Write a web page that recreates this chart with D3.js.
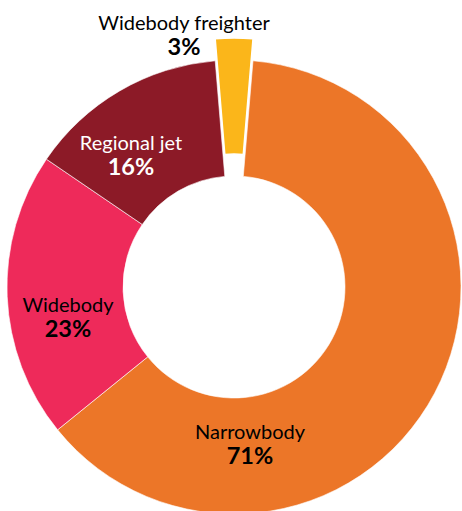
<!DOCTYPE html>
<html>
<head>
<meta charset="utf-8">
<script src="https://cdn.jsdelivr.net/npm/d3@7/dist/d3.min.js"></script>
<style>
  html, body { margin: 0; padding: 0; background: #fff; }
  svg { display: block; }
  text { font-family: Lato, "Open Sans", sans-serif; }
</style>
</head>
<body>
<svg id="chart" width="462" height="511"></svg>
<script>
// Fleet mix by aircraft type (share, %)
const categories = ["Narrowbody", "Widebody", "Regional jet", "Widebody freighter"];
const shares = [71, 23, 16, 3];

// Slice colours, one per category
const colors = ["#EC7628", "#EE2A5A", "#8C1A27", "#FBB61A"];
// Label ink per category
const labelInk = ["#000", "#000", "#fff", "#000"];
// Baseline of each category name, relative to the ring centre
const labelOffsets = [[16, 152], [-166, 25], [-103, -137], [-50, -257]];
// Which slice is pulled out of the ring, and by how much
const explodeIndex = 3;
const explodeBy = 22;

const width = 462, height = 511;
const cx = 234, cy = 287;
const outerR = 227, innerR = 111;

const svg = d3.select("#chart");
const g = svg.append("g").attr("transform", `translate(${cx},${cy})`);

const startA = 4.8 * Math.PI / 180;
const pie = d3.pie().sort(null).value(d => d).startAngle(startA).endAngle(startA + 2 * Math.PI);
const arc = d3.arc().innerRadius(innerR).outerRadius(outerR);

const arcs = pie(shares);

g.selectAll("path.slice")
  .data(arcs)
  .join("path")
  .attr("class", "slice")
  .attr("d", arc)
  .attr("fill", (d, i) => colors[i])
  .attr("stroke", "#fff")
  .attr("stroke-width", (d, i) => i === explodeIndex ? 1.5 : 0.6)
  .attr("transform", (d, i) => {
    if (i !== explodeIndex) return null;
    const mid = (d.startAngle + d.endAngle) / 2;
    return `translate(${Math.sin(mid) * explodeBy},${-Math.cos(mid) * explodeBy})`;
  });

// Category name and share, two lines per label
const labels = g.selectAll("g.label")
  .data(arcs)
  .join("g")
  .attr("class", "label")
  .attr("transform", (d, i) => `translate(${labelOffsets[i][0]},${labelOffsets[i][1]})`)
  .attr("fill", (d, i) => labelInk[i])
  .attr("text-anchor", "middle");

labels.append("text")
  .attr("y", 0)
  .attr("font-size", 20)
  .text((d, i) => categories[i]);

labels.append("text")
  .attr("y", 25)
  .attr("font-size", 23.5)
  .attr("font-weight", "bold")
  .text(d => d.data + "%");
</script>
</body>
</html>
